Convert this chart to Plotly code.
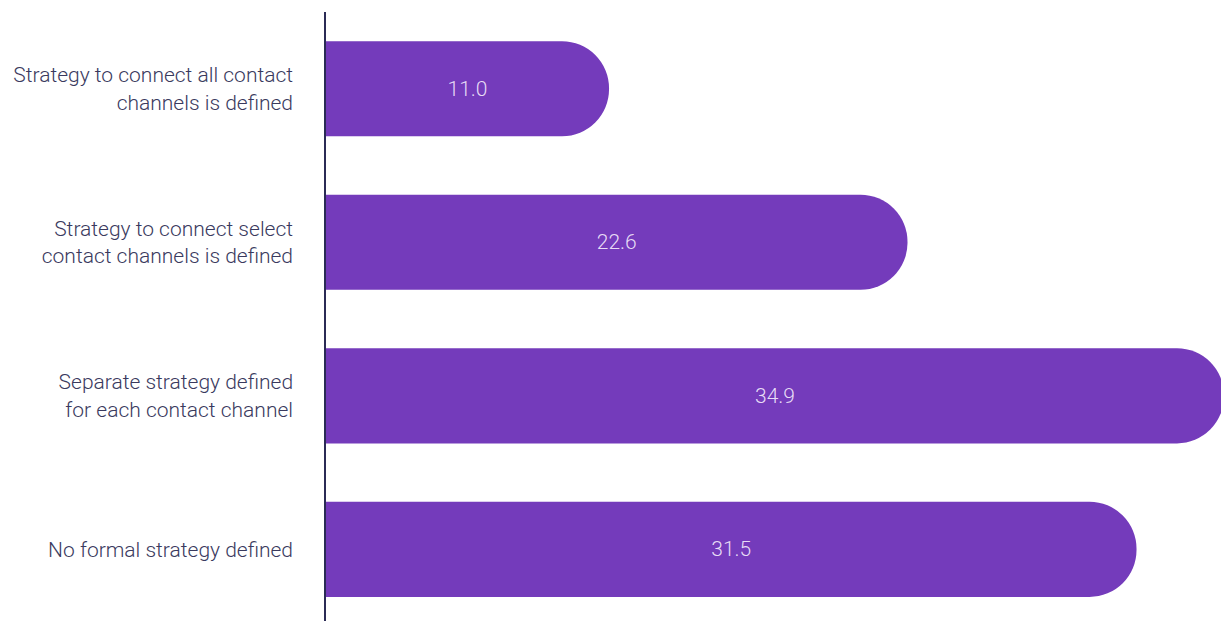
import plotly.graph_objects as go

categories = [
    "Strategy to connect all contact<br>channels is defined",
    "Strategy to connect select<br>contact channels is defined",
    "Separate strategy defined<br>for each contact channel",
    "No formal strategy defined",
]
values = [11.0, 22.6, 34.9, 31.5]
value_labels = ["11.0", "22.6", "34.9", "31.5"]

fig = go.Figure(
    go.Bar(
        x=values,
        y=categories,
        orientation="h",
        width=0.62,
        marker=dict(color="#743bbb", cornerradius="50%", line=dict(width=0)),
        text=value_labels,
        textposition="inside",
        insidetextanchor="middle",
        textangle=0,
        textfont=dict(family="Roboto", size=21, color="rgba(240,230,250,0.95)", weight=300),
        hoverinfo="skip",
    )
)

fig.update_layout(
    width=1221,
    height=613,
    margin=dict(l=318, r=5, t=4, b=0),
    paper_bgcolor="white",
    plot_bgcolor="white",
    showlegend=False,
    font=dict(family="Roboto", size=21, color="#3a3a5e", weight=300),
    xaxis=dict(
        range=[0, 34.9],
        visible=False,
        showgrid=False,
        zeroline=False,
        fixedrange=True,
    ),
    yaxis=dict(
        range=[3.467, -0.5],
        showgrid=False,
        zeroline=False,
        showline=True,
        linecolor="#2b2b55",
        linewidth=1.5,
        ticks="",
        ticklabelstandoff=27,
        tickfont=dict(family="Roboto", size=21, color="#3a3a5e", weight=300),
        fixedrange=True,
    ),
)

fig.write_html("out.html")
